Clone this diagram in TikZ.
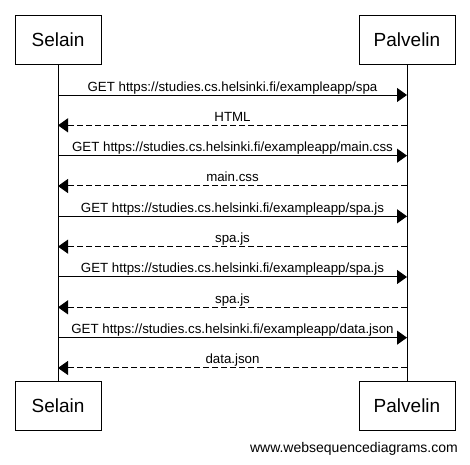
\documentclass[tikz,border=0pt]{standalone}
\usepackage{fontspec}
\setmainfont{Liberation Sans}
\usetikzlibrary{arrows.meta}
\begin{document}
\begin{tikzpicture}[x=1pt,y=-1pt,
  actor/.style={draw, line width=1pt, minimum height=49pt, inner sep=0pt, font=\fontsize{19}{22}\selectfont},
  life/.style={line width=1pt},
  req/.style={-{Triangle[length=10pt,width=14pt]}, line width=1pt},
  resp/.style={req, dash pattern=on 6pt off 3pt},
  lbl/.style={anchor=base, yshift=4pt, inner sep=0pt, font=\fontsize{13.3}{15}\selectfont}]
\useasboundingbox (0,0) rectangle (470,464);
\fill[white] (0,0) rectangle (470,464);
\node[actor, minimum width=86pt] (s1) at (58,39.5) {Selain};
\node[actor, minimum width=96pt] (p1) at (407,39.5) {Palvelin};
\node[actor, minimum width=86pt] (s2) at (58,405.5) {Selain};
\node[actor, minimum width=96pt] (p2) at (407,405.5) {Palvelin};
\draw[life] (s1.south) -- (s2.north);
\draw[life] (p1.south) -- (p2.north);
\foreach \i in {0,...,9} {
  \coordinate (a\i) at (58,{95+30.33*\i});
  \coordinate (b\i) at (407,{95+30.33*\i});
}
\draw[req]  (a0) -- (b0) node[lbl, midway] (m0) {GET https://studies.cs.helsinki.fi/exampleapp/spa};
\draw[resp] (b1) -- (a1) node[lbl, midway] (m1) {HTML};
\draw[req]  (a2) -- (b2) node[lbl, midway] (m2) {GET https://studies.cs.helsinki.fi/exampleapp/main.css};
\draw[resp] (b3) -- (a3) node[lbl, midway] (m3) {main.css};
\draw[req]  (a4) -- (b4) node[lbl, midway] (m4) {GET https://studies.cs.helsinki.fi/exampleapp/spa.js};
\draw[resp] (b5) -- (a5) node[lbl, midway] (m5) {spa.js};
\draw[req]  (a6) -- (b6) node[lbl, midway] (m6) {GET https://studies.cs.helsinki.fi/exampleapp/spa.js};
\draw[resp] (b7) -- (a7) node[lbl, midway] (m7) {spa.js};
\draw[req]  (a8) -- (b8) node[lbl, midway] (m8) {GET https://studies.cs.helsinki.fi/exampleapp/data.json};
\draw[resp] (b9) -- (a9) node[lbl, midway] (m9) {data.json};
\node[anchor=base east, inner sep=0pt, font=\fontsize{14}{16}\selectfont] (foot) at (458,452) {www.websequencediagrams.com};
\end{tikzpicture}
\end{document}
